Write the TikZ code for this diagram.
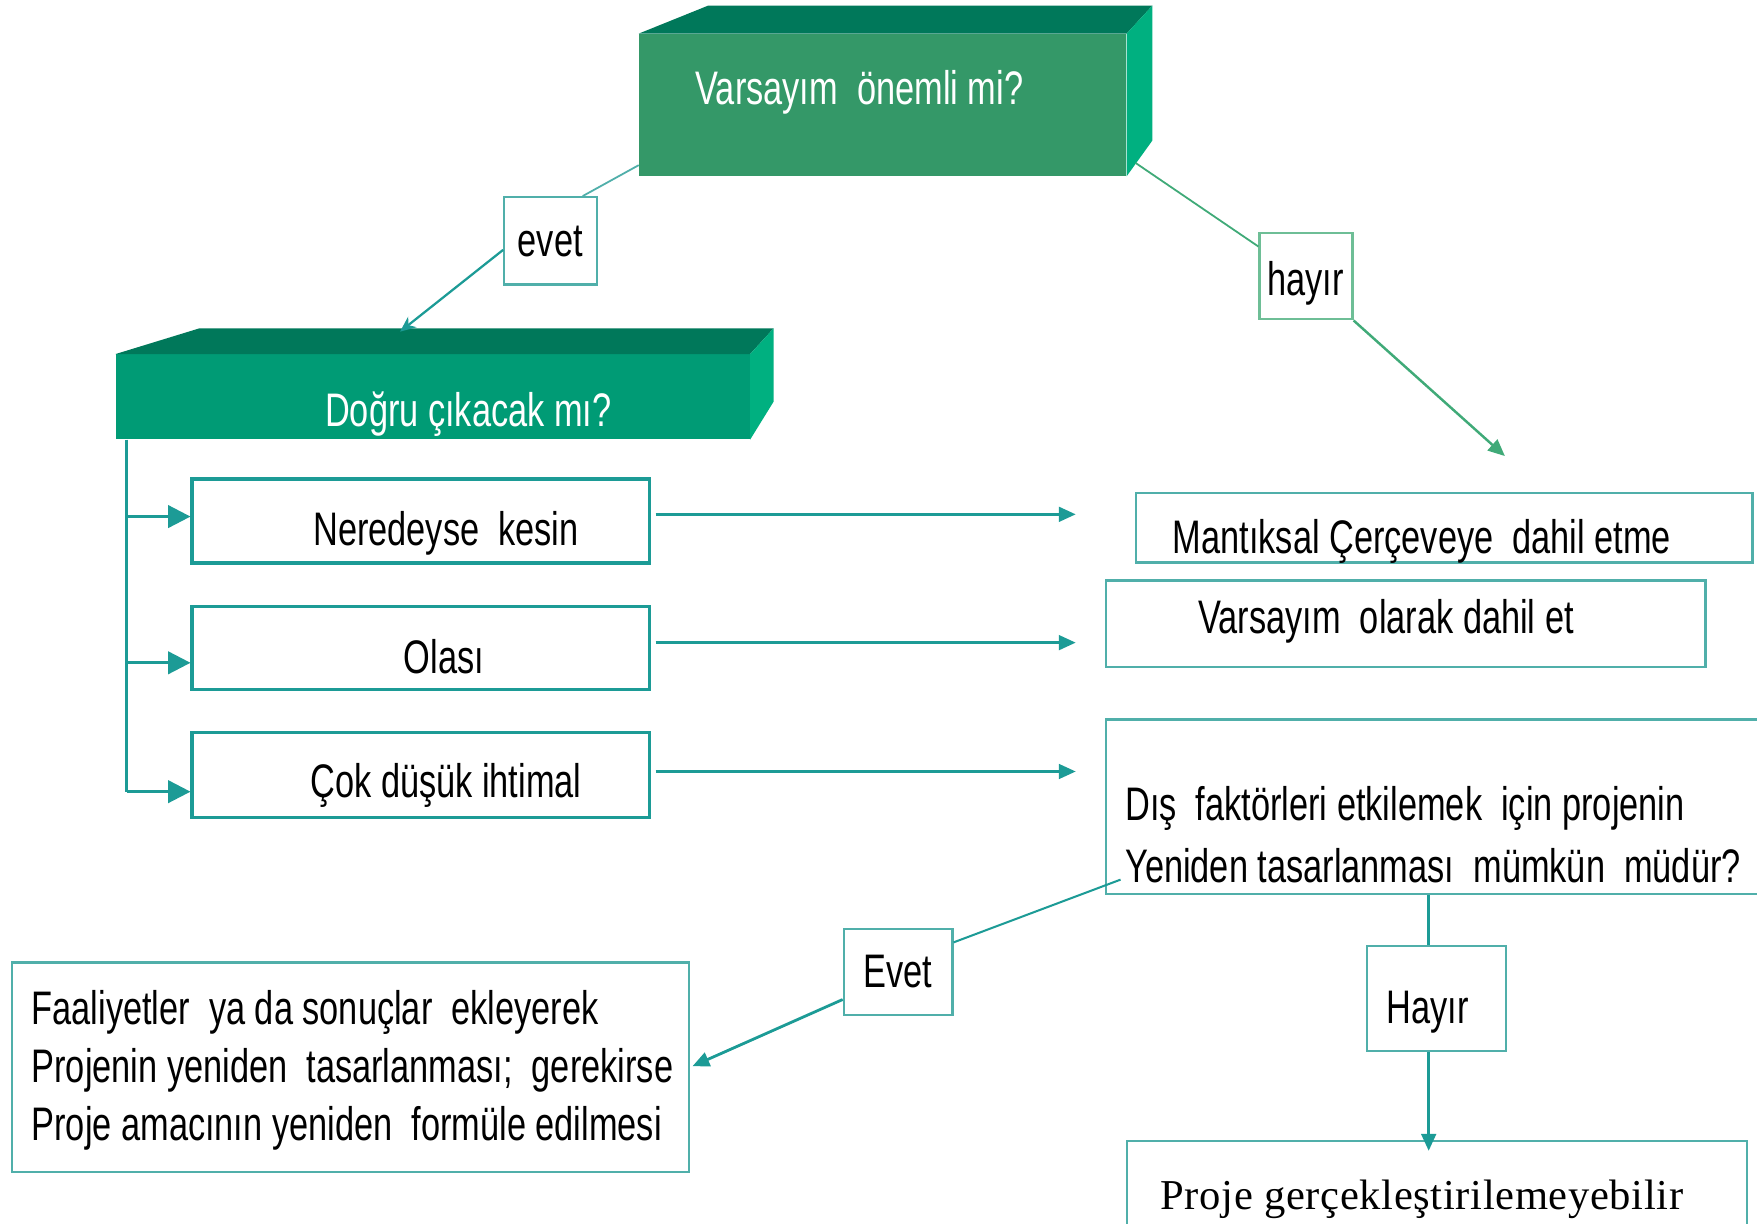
\documentclass[tikz,border=0pt]{standalone}
\usepackage{fontspec}
\setmainfont{Liberation Sans}[FakeStretch=0.73]
\newfontfamily\serifp{Liberation Serif}[LetterSpace=1.5]
\usetikzlibrary{arrows.meta,calc}
\definecolor{tealA}{RGB}{28,155,150}
\definecolor{tealL}{RGB}{80,175,170}
\definecolor{grnA}{RGB}{64,170,120}
\definecolor{grnL}{RGB}{110,190,150}
\definecolor{frontA}{RGB}{52,152,104}
\definecolor{frontB}{RGB}{0,155,117}
\definecolor{topG}{RGB}{0,120,90}
\definecolor{sideG}{RGB}{0,176,128}
\begin{document}
\begin{tikzpicture}[x=1pt,y=-1pt,
  txt/.style={font=\fontsize{42}{50}\selectfont, inner sep=0pt},
  wtxt/.style={txt, text=white},
  face/.style={inner sep=0pt, anchor=north west, draw=none},
  optbox/.style={draw=tealA, line width=3pt, inner sep=0pt, anchor=north west},
  resbox/.style={draw=tealL, line width=2pt, inner sep=0pt, anchor=north west},
  lblbox/.style={draw=tealL, line width=2pt, inner sep=0pt, anchor=north west},
  conn/.style={draw=tealA, line width=2.5pt},
  tip/.style={-{Triangle[length=15pt,width=13pt]}},
  bigtip/.style={-{Triangle[length=20pt,width=20pt]}}]
\clip (0,0) rectangle (1568,1092);
\fill[white] (0,0) rectangle (1568,1092);

% top 3D box
\node[face, fill=frontA, minimum width=435pt, minimum height=127pt] (q1) at (570,30) {};
\fill[topG] (q1.north west) -- ++(62,-25) -- ($(q1.north east)+(23,-25)$) -- (q1.north east) -- cycle;
\fill[sideG] (q1.north east) -- ++(23,-25) -- ($(q1.south east)+(23,-32)$) -- (q1.south east) -- cycle;
\node[wtxt, anchor=base] (q1t) at (767,93) {Varsayım~ önemli mi?};

% second 3D box
\node[face, fill=frontB, minimum width=566pt, minimum height=76pt] (q2) at (103,316) {};
\fill[topG] (q2.north west) -- ++(75,-23) -- ($(q2.north east)+(21,-23)$) -- (q2.north east) -- cycle;
\fill[sideG] (q2.north east) -- ++(21,-23) -- ($(q2.south east)+(21,-34)$) -- (q2.south east) -- cycle;
\node[wtxt, anchor=base] (q2t) at (418,381) {Doğru çıkacak mı?};

% evet / hayir labels
\node[lblbox, minimum width=83pt, minimum height=78pt] (ev1) at (449,175) {};
\node[txt, anchor=base] (ev1t) at (491,229) {evet};
\node[lblbox, draw=grnL, minimum width=83pt, minimum height=77pt] (hy1) at (1123,207) {};
\node[txt, anchor=base] (hy1t) at (1165,264) {hayır};

% option boxes
\node[optbox, minimum width=408pt, minimum height=75pt] (n1) at (170,426) {};
\node[txt, anchor=base] (n1t) at (398,487) {Neredeyse~ kesin};
\node[optbox, minimum width=408pt, minimum height=74pt] (n2) at (170,540) {};
\node[txt, anchor=base] (n2t) at (396,601) {Olası};
\node[optbox, minimum width=408pt, minimum height=76pt] (n3) at (170,652) {};
\node[txt, anchor=base] (n3t) at (398,712) {Çok düşük ihtimal};

% result boxes
\node[resbox, minimum width=550pt, minimum height=62pt] (r1) at (1013,439) {};
\node[txt, anchor=base] (r1t) at (1269,494) {Mantıksal Çerçeveye~ dahil etme};
\node[resbox, minimum width=535pt, minimum height=77pt] (r2) at (986,517) {};
\node[txt, anchor=base] (r2t) at (1237,565) {Varsayım~ olarak dahil et};
\node[resbox, minimum width=600pt, minimum height=156pt] (dis) at (986,641) {};
\node[txt, anchor=base west] (dist1) at (1004,732) {Dış~ faktörleri etkilemek~ için projenin};
\node[txt, anchor=base west] (dist2) at (1004,788) {Yeniden tasarlanması~ mümkün~ müdür?};

% lower labels
\node[lblbox, minimum width=97pt, minimum height=77pt] (ev2) at (752,828) {};
\node[txt, anchor=base] (ev2t) at (801,881) {Evet};
\node[lblbox, minimum width=124pt, minimum height=94pt] (hy2) at (1219,843) {};
\node[txt, anchor=base] (hy2t) at (1274,913) {Hayır};

% lower result boxes
\node[resbox, minimum width=604pt, minimum height=187pt] (fa) at (10,858) {};
\node[txt, anchor=base west] (fat1) at (28,914) {Faaliyetler~ ya da sonuçlar~ ekleyerek};
\node[txt, anchor=base west] (fat2) at (28,966) {Projenin yeniden~ tasarlanması;~ gerekirse};
\node[txt, anchor=base west] (fat3) at (28,1018) {Proje amacının yeniden~ formüle edilmesi};
\node[resbox, minimum width=553pt, minimum height=95pt] (pr) at (1005,1017) {};
\node[font=\serifp\fontsize{38}{44}\selectfont, inner sep=0pt, anchor=base] (prt) at (1269,1079) {Proje gerçekleştirilemeyebilir};

% connectors top
\draw[draw=tealL, line width=1.6pt] ($(q1.south west)+(0,-10)$) -- ($(ev1.north east)+(-14,0)$);
\draw[conn, line width=2pt, -{Stealth[length=14pt,width=12pt]}] ($(ev1.west)+(0,8)$) -- ($(q2.north west)+(254,-20)$);
\draw[draw=grnA, line width=1.6pt] ($(q1.south east)+(8,-12)$) -- ($(hy1.north west)+(0,13)$);
\coordinate (hyend) at (1343,407);
\draw[draw=grnA, line width=2.2pt, tip] (hy1.south east) -- (hyend);

% trunk and branches
\coordinate (trunk) at ($(q2.south west)+(10,0)$);
\coordinate (a1) at ($(n1.west)+(0,-4)$);
\coordinate (a2) at ($(n2.west)+(0,13)$);
\coordinate (a3) at ($(n3.west)+(0,15)$);
\draw[conn] (trunk) -- (trunk |- a3);
\draw[conn, bigtip] (trunk |- a1) -- (a1);
\draw[conn, bigtip] (trunk |- a2) -- (a2);
\draw[conn, bigtip] (trunk |- a3) -- (a3);

% right arrows
\coordinate (rt) at (960,0);
\coordinate (s1) at ($(n1.east)+(4,-6)$);
\coordinate (s2) at ($(n2.east)+(4,-5)$);
\coordinate (s3) at ($(n3.east)+(4,-3)$);
\draw[conn, tip] (s1) -- (s1 -| rt);
\draw[conn, tip] (s2) -- (s2 -| rt);
\draw[conn, tip] (s3) -- (s3 -| rt);

% lower connectors
\coordinate (hx) at ($(hy2.north)+(-7,0)$);
\draw[draw=tealA, line width=1.8pt] ($(dis.south west)+(14,-14)$) -- ($(ev2.north east)+(0,13)$);
\draw[conn, tip] ($(ev2.south west)+(0,-15)$) -- ($(fa.east)+(2,-1)$);
\draw[conn] (dis.south -| hx) -- (hx);
\draw[conn, tip] (hx |- hy2.south) -- ($(hx |- pr.north)+(0,10)$);
\end{tikzpicture}
\end{document}
